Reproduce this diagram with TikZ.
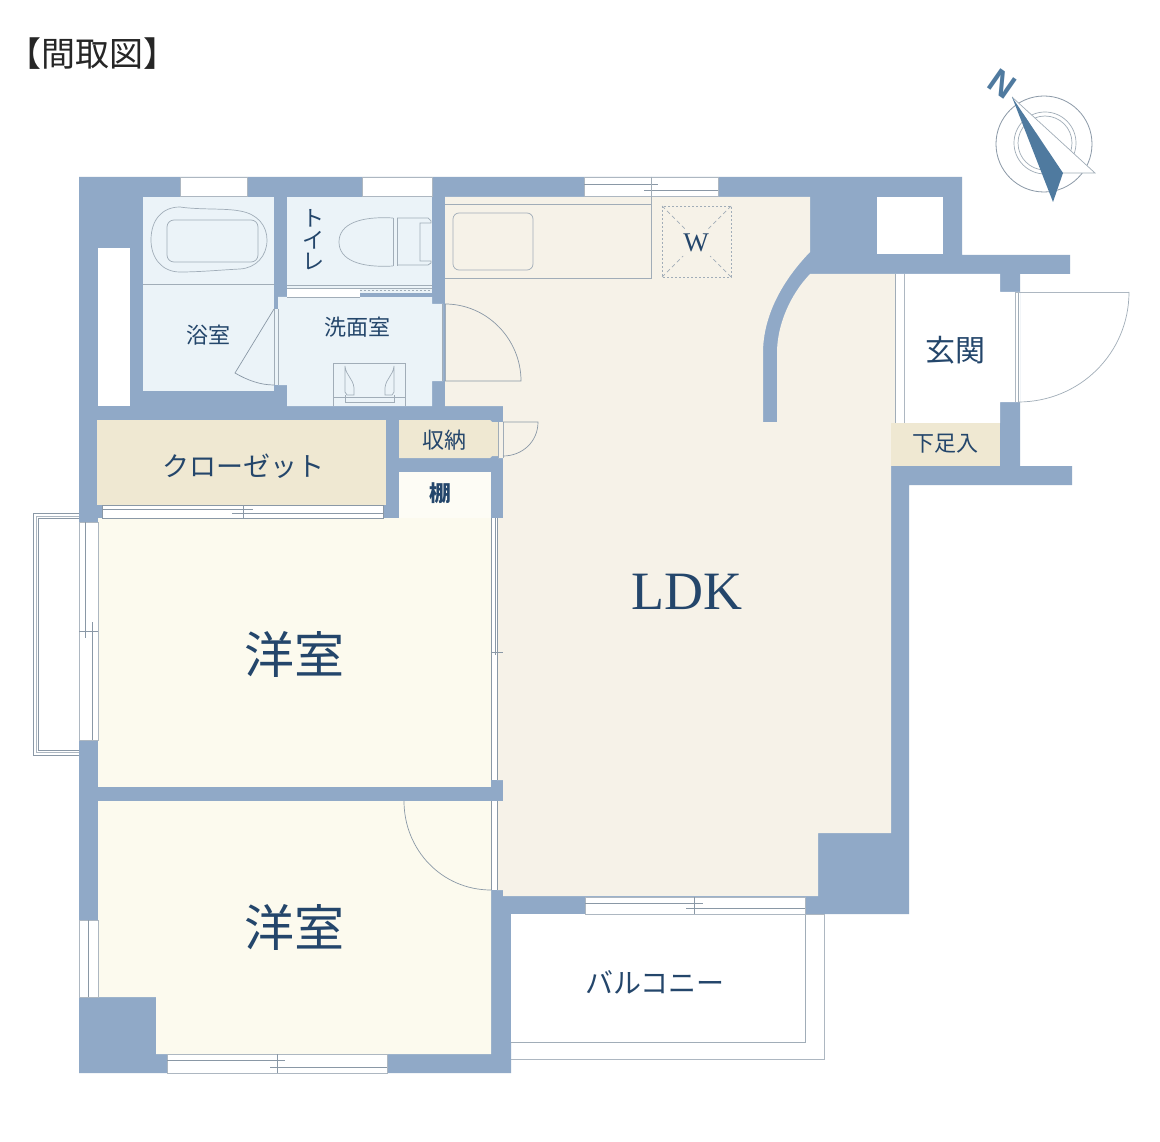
\documentclass[tikz,border=0pt]{standalone}
\usepackage{fontspec}
\setmainfont{Liberation Serif}
\newfontfamily\jp{Noto Sans CJK JP}
\newfontfamily\sanslabel{Liberation Sans}
\definecolor{wallc}{HTML}{90A9C7}
\definecolor{ldkc}{HTML}{F6F2E8}
\definecolor{roomc}{HTML}{FCFAEE}
\definecolor{wetc}{HTML}{EBF3F8}
\definecolor{storec}{HTML}{EFE8D2}
\definecolor{inkc}{HTML}{24466B}
\definecolor{linec}{HTML}{8A98A6}
\definecolor{darkneedle}{HTML}{4F7A9F}
\tikzset{
  wall/.style={fill=wallc,draw=none},
  fine/.style={draw=linec,line width=0.7pt},
  pale/.style={draw=linec!70,line width=0.9pt},
  fix/.style={draw=linec!80,line width=0.7pt},
  win/.style={fill=white,draw=linec!70,line width=0.6pt},
  jplabel/.style={font=\jp,text=inkc,inner sep=0pt},
  serlabel/.style={text=inkc,inner sep=0pt}
}
\begin{document}
\begin{tikzpicture}[x=1pt,y=-1pt]
\useasboundingbox (0,0) rectangle (1160,1142);
\fill[white] (0,0) rectangle (1160,1142);
% wall silhouette
\fill[wall] (79,177) -- (962,177) -- (962,255) -- (1070,255) -- (1070,274) -- (1020,274) -- (1020,466) -- (1072,466) -- (1072,485) -- (909,485) -- (909,914) -- (511,914) -- (511,1073) -- (79,1073) -- cycle;
% LDK
\fill[ldkc] (445,197) -- (810,197) -- (810,252) .. controls (783,280) and (763,315) .. (763,353) -- (763,422) -- (777,422) -- (777,353) .. controls (777,325) and (790,295) .. (810,274) -- (895,274) -- (895,423) -- (891,423) -- (891,833) -- (818,833) -- (818,896) -- (503,896) -- (503,890) -- (497,890) -- (497,801) -- (503,801) -- (503,780) -- (497,780) -- (497,518) -- (503,518) -- (503,458) -- (498,458) -- (498,422) -- (503,422) -- (503,406) -- (445,406) -- cycle;
% wet rooms
\fill[wetc] (143,197) rectangle (274,391);
\fill[wetc] (287,197) rectangle (432,293);
\fill[wetc] (278,297) -- (432,297) -- (432,304) -- (443,304) -- (443,381) -- (432,381) -- (432,406) -- (287,406) -- (287,385) -- (278,385) -- cycle;
\fill[wetc] (274,309) rectangle (278,385);
% white pockets
\fill[white] (98,248) rectangle (130,406);
\fill[white] (877,197) rectangle (943,254);
\fill[white] (895,274) -- (1000,274) -- (1000,292) -- (1020,292) -- (1020,402) -- (1000,402) -- (1000,423) -- (895,423) -- cycle;
\fill[white] (511,914) rectangle (805,1042);
% storage
\fill[storec] (97,420) rectangle (386,505);
\fill[storec] (399,420) -- (490,420) -- (492,422) -- (498,422) -- (498,456) -- (492,456) -- (490,458) -- (399,458) -- cycle;
\fill[storec] (891,423) rectangle (1000,466);
\fill[roomc!60!white] (399,472) rectangle (491,518);
\draw[fix] (399,518) -- (491,518);
% bedrooms
\fill[roomc] (98,518) rectangle (491,787);
\fill[roomc] (98,801) -- (491,801) -- (491,1054) -- (156,1054) -- (156,997) -- (98,997) -- cycle;
% windows
\draw[win] (180,177) rectangle (247,196);
\draw[win] (362,177) rectangle (432,196);
\draw[win] (584,177) rectangle (718,196);
\draw[fine] (651,177) -- (651,196) (584,184) -- (658,184) (644,190) -- (718,190);
\draw[win] (585,897) rectangle (805,914);
\draw[fine] (694,897) -- (694,914) (585,903) -- (703,903) (686,908) -- (805,908);
\draw[win] (167,1054) rectangle (387,1073);
\draw[fine] (277,1054) -- (277,1073) (167,1060) -- (285,1060) (270,1067) -- (387,1067);
\draw[win] (79,920) rectangle (98,997);
\draw[fine] (88,920) -- (88,997);
\draw[win] (79,522) rectangle (98,740);
\draw[fine] (79,631) -- (98,631) (85,522) -- (85,638) (92,622) -- (92,740);
% bay window
\draw[fine] (79,513) -- (33,513) -- (33,755) -- (79,755);
\draw[pale] (79,516) -- (36,516) -- (36,752) -- (79,752);
\draw[fine] (79,518) -- (38,518) -- (38,750) -- (79,750);
% closet doors
\fill[white] (102,505) rectangle (383,518);
\draw[fine] (102,505) rectangle (383,518);
\draw[fine] (243,505) -- (243,518) (102,509) -- (253,509) (232,513) -- (383,513);
% bedroom 1 sliding door to LDK
\fill[white] (491,518) rectangle (497,780);
\draw[fine] (491,518) -- (491,780) (495,518) -- (495,655) (497,518) -- (497,780) (491,652) -- (503,652);
% bedroom 2 door
\fill[white] (491,801) rectangle (497,890);
\draw[fine] (491,801) -- (491,890) (497,801) -- (497,890);
\draw[fine] (404,801) .. controls (404,850) and (442,890) .. (491,890);
% bath line and tub
\draw[fix] (143,284) -- (274,284);
\draw[fix] (180,207) .. controls (200,210) and (225,208) .. (240,211) .. controls (258,214) and (267,226) .. (267,240) .. controls (267,256) and (256,268) .. (240,269) .. controls (220,270) and (200,272) .. (180,272) .. controls (162,272) and (151,258) .. (151,240) .. controls (151,220) and (162,207) .. (180,207) -- cycle;
\draw[fix,rounded corners=7pt] (167,220) rectangle (258,262);
% toilet
\draw[fix] (393,218) .. controls (360,216) and (339,224) .. (339,242) .. controls (339,260) and (360,268) .. (393,266);
\draw[fix] (393,218) -- (393,266) (397,218) -- (397,266);
\draw[fix] (397,218) -- (428,218) -- (431,221) -- (431,223) -- (420,223) -- (420,261) -- (431,261) -- (431,263) -- (428,265) -- (397,265);
% toilet door strip
\fill[white] (287,288) rectangle (360,297);
\draw[fix] (287,285) -- (432,285) (287,288) -- (432,288) (287,297) -- (360,297);
\fill[wallc] (360,293) rectangle (432,297);
\draw[fix,dash pattern=on 2pt off 2pt] (360,290.5) -- (432,290.5);
% wash door between bath and washroom
\draw[fix] (274,309) -- (274,385) (278,309) -- (278,385);
\draw[fine] (274,309) -- (235,373) .. controls (247,380) and (260,385) .. (274,385);
% wash basin
\draw[fix] (333,406) -- (333,363) -- (405,363) -- (405,406);
\draw[fix] (333,397) -- (405,397);
\draw[fix] (345,366) .. controls (346,376) and (353,378) .. (354,388) -- (354,395) -- (347,395) -- (345,392) -- cycle;
\draw[fix] (394,366) .. controls (393,376) and (386,378) .. (385,388) -- (385,395) -- (392,395) -- (394,392) -- cycle;
\draw[fix] (345,395) -- (345,402) -- (394,402) -- (394,395);
% wash-LDK door
\draw[fix] (442,304) -- (442,381) (445,304) -- (445,381);
\draw[fine] (445,304) .. controls (487,304) and (521,339) .. (521,381) -- (445,381);
% kitchen
\draw[fix] (445,204) -- (651,204) (651,177) -- (651,278) -- (445,278);
\draw[fix,rounded corners=6pt] (453,213) rectangle (533,270);
\draw[fix,dash pattern=on 2pt off 2pt] (662,206) rectangle (731,277);
\draw[fix,dash pattern=on 4pt off 3pt] (662,206) -- (685,229) (731,206) -- (708,229) (662,277) -- (683,256) (731,277) -- (710,256);
% storage door
\draw[fix] (498,422) -- (498,458) (503,422) -- (503,458);
\draw[fine] (503,422) -- (538,422) .. controls (538,442) and (522,456) .. (503,456);
% entry
\draw[fix] (895,274) -- (895,423);
\draw[pale] (904,274) -- (904,423);
\draw[pale] (1015,292) -- (1015,402);
\draw[fix] (1018,292) -- (1018,402);
\draw[pale] (1015,292) -- (1129,292);
\draw[fix] (1129,292) .. controls (1129,353) and (1080,402) .. (1018,402);
% balcony
\draw[fix] (805,914) -- (805,1042) -- (511,1042);
\draw[pale] (805,914) -- (824,914) -- (824,1059) -- (511,1059);
% compass
\draw[draw=linec,line width=0.8pt] (1044,144) circle (48);
\draw[fix] (1045,143) circle (31);
\draw[fix] (1045,143) circle (27);
\fill[white] (1012,97) -- (1095,173) -- (1063,173) -- cycle;
\draw[fix] (1012,97) -- (1095,173) -- (1063,173);
\fill[darkneedle] (1012,97) -- (1063,173) -- (1053,202) -- cycle;
\node[serlabel,font=\sanslabel\bfseries\fontsize{34}{34}\selectfont,text=darkneedle,rotate=-35] (north) at (1002,84) {N};
% labels
\node[jplabel,font=\jp\fontsize{34}{34}\selectfont,text=black!85] (title) at (93,54) {【間取図】};
\node[serlabel,font=\fontsize{54}{54}\selectfont] (ldk) at (687,592) {LDK};
\node[jplabel,font=\jp\fontsize{50}{50}\selectfont] (bed1) at (294,654) {洋室};
\node[jplabel,font=\jp\fontsize{50}{50}\selectfont] (bed2) at (294,927) {洋室};
\node[jplabel,font=\jp\fontsize{27}{27}\selectfont] (closet) at (243,466) {クローゼット};
\node[jplabel,font=\jp\fontsize{22}{22}\selectfont] (shuno) at (444,440) {収納};
\node[jplabel,font=\jp\bfseries\fontsize{22}{22}\selectfont] (tana) at (440,493) {棚};
\node[jplabel,font=\jp\fontsize{22}{22}\selectfont] (bath) at (208,335) {浴室};
\node[jplabel,font=\jp\fontsize{22}{22}\selectfont] (wash) at (357,327) {洗面室};
\node[jplabel,font=\jp\fontsize{22}{22}\selectfont] (wc1) at (313,218) {ト};
\node[jplabel,font=\jp\fontsize{22}{22}\selectfont] (wc2) at (313,240) {イ};
\node[jplabel,font=\jp\fontsize{22}{22}\selectfont] (wc3) at (313,262) {レ};
\node[jplabel,font=\jp\fontsize{30}{30}\selectfont] (genkan) at (955,350) {玄関};
\node[jplabel,font=\jp\fontsize{22}{22}\selectfont] (shoes) at (945,444) {下足入};
\node[serlabel,font=\fontsize{27}{27}\selectfont] (wlabel) at (696,243) {W};
\node[jplabel,font=\jp\fontsize{28}{28}\selectfont] (balcony) at (655,982) {バルコニー};
\end{tikzpicture}
\end{document}
